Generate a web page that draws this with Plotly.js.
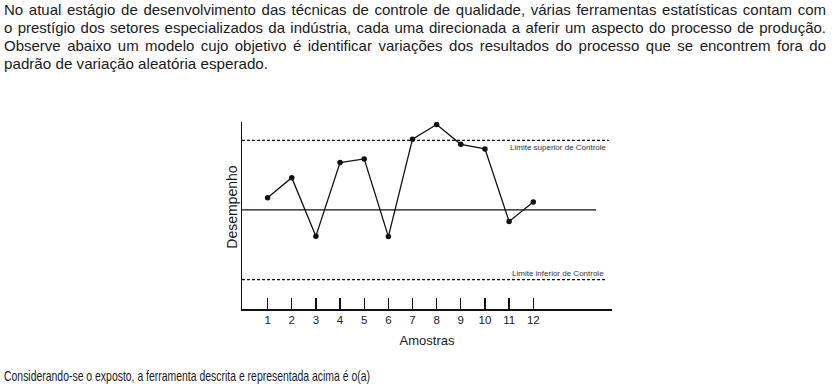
<!DOCTYPE html>
<html>
<head>
<meta charset="utf-8">
<script src="https://cdn.plot.ly/plotly-3.0.1.min.js"></script>
<style>
  html, body { margin: 0; padding: 0; background: #fff; }
  body { width: 832px; height: 387px; position: relative; overflow: hidden;
         font-family: "Liberation Sans", Arial, sans-serif; color: #1a1a1a; }
  .line { position: absolute; left: 4px; width: 822px; font-size: 15px; line-height: 18px;
          white-space: nowrap; }
  .just { text-align: justify; text-align-last: justify; white-space: normal; }
  .fit { width: auto; transform-origin: 0 0; }
  #chart { position: absolute; left: 0; top: 0; width: 832px; height: 387px; }
</style>
</head>
<body>
<div id="chart"></div>
<div class="line just" style="top:1px">No atual estágio de desenvolvimento das técnicas de controle de qualidade, várias ferramentas estatísticas contam com</div>
<div class="line just" style="top:19px">o prestígio dos setores especializados da indústria, cada uma direcionada a aferir um aspecto do processo de produção.</div>
<div class="line just" style="top:37px">Observe abaixo um modelo cujo objetivo é identificar variações dos resultados do processo que se encontrem fora do</div>
<div class="line fit" data-w="264" style="top:55px">padrão de variação aleatória esperado.</div>
<div class="line fit" data-w="366" style="top:367px; font-size:15px">Considerando-se o exposto, a ferramenta descrita e representada acima é o(a)</div>
<script>
// Data
const samples = [1, 2, 3, 4, 5, 6, 7, 8, 9, 10, 11, 12];
const performance = [0.53, 1.39, -1.13, 2.04, 2.2, -1.15, 3.05, 3.68, 2.83, 2.63, -0.5, 0.34];
const centerLineX = [-0.06, 14.6];
const centerLineY = [0, 0];
const upperLimitX = [-0.06, 15.13];
const upperLimitY = [3.0, 3.0];
const lowerLimitX = [-0.06, 15.0];
const lowerLimitY = [-3.0, -3.0];
const tickLabels = ["1","2","3","4","5","6","7","8","9","10","11","12"];

// horizontal fit of free text lines
document.querySelectorAll(".fit").forEach(el => {
  const w = el.getBoundingClientRect().width;
  const target = parseFloat(el.dataset.w);
  el.style.transform = "scaleX(" + (target / w) + ")";
});

const font = "Liberation Sans, Arial, sans-serif";

const traces = [
  { x: centerLineX, y: centerLineY, mode: "lines", line: {color: "#111", width: 1.3}, hoverinfo: "skip" },
  { x: upperLimitX, y: upperLimitY, mode: "lines", line: {color: "#111", width: 1.2, dash: "3px,2px"}, hoverinfo: "skip" },
  { x: lowerLimitX, y: lowerLimitY, mode: "lines", line: {color: "#111", width: 1.2, dash: "3px,2px"}, hoverinfo: "skip" },
  { x: samples, y: performance, mode: "lines+markers",
    line: {color: "#111", width: 1.3}, marker: {color: "#111", size: 5.5} }
];

const layout = {
  width: 832, height: 387,
  margin: {l: 242, r: 220, t: 122, b: 78, pad: 0},
  paper_bgcolor: "rgba(0,0,0,0)", plot_bgcolor: "rgba(0,0,0,0)",
  showlegend: false,
  font: {family: font, color: "#1a1a1a"},
  xaxis: {
    range: [-0.06, 15.26], showgrid: false, zeroline: false,
    showline: true, linecolor: "#111", linewidth: 1.5,
    ticks: "inside", ticklen: 11, tickwidth: 1.3, tickcolor: "#111",
    tickvals: samples, ticktext: tickLabels,
    tickfont: {size: 11.5, family: font, color: "#1a1a1a"},
    title: {text: "Amostras", font: {size: 13, family: font, color: "#1a1a1a"}, standoff: 10}
  },
  yaxis: {
    range: [-4.27, 3.79], showgrid: false, zeroline: false,
    showline: true, linecolor: "#111", linewidth: 1.5,
    showticklabels: false, ticks: ""
  },
  annotations: [
    { xref: "paper", yref: "paper", x: -0.028, y: 0.545, xanchor: "center", yanchor: "middle",
      textangle: -90, text: "Desempenho", showarrow: false, font: {size: 14, family: font, color: "#1a1a1a"} },
    { xref: "x", yref: "y", x: 15.13, y: upperLimitY[0], xanchor: "right", yanchor: "top", yshift: -1,
      text: "Limite superior de Controle", showarrow: false, font: {size: 8, family: font, color: "#333"} },
    { xref: "x", yref: "y", x: 15.0, y: lowerLimitY[0], xanchor: "right", yanchor: "bottom", yshift: 0,
      text: "Limite inferior de Controle", showarrow: false, font: {size: 8, family: font, color: "#333"} }
  ]
};

Plotly.newPlot("chart", traces, layout, {displayModeBar: false, staticPlot: true});
</script>
</body>
</html>
